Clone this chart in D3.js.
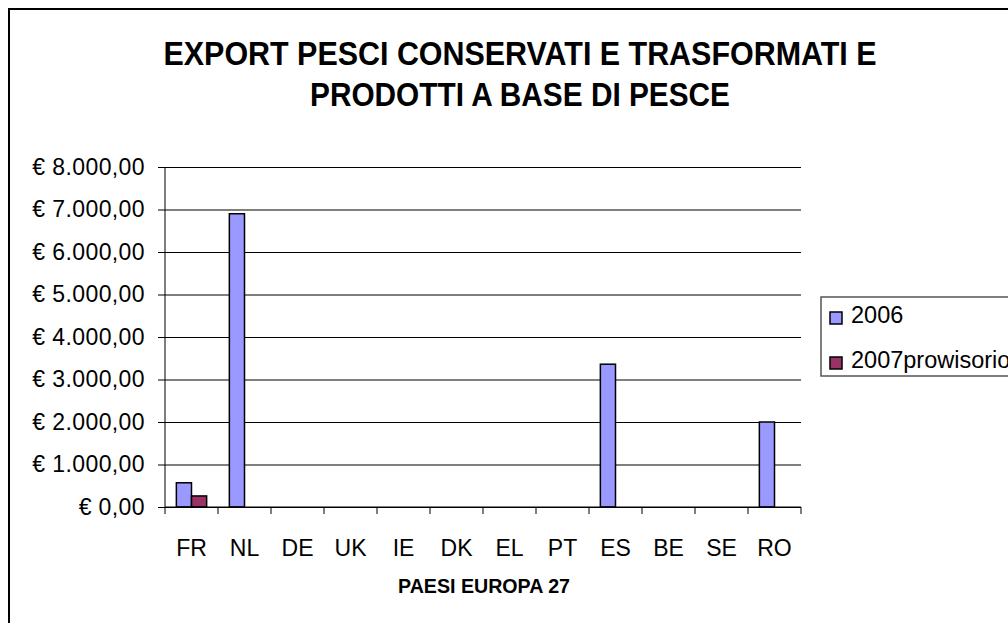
<!DOCTYPE html>
<html>
<head>
<meta charset="utf-8">
<script src="https://cdn.jsdelivr.net/npm/d3@7"></script>
<style>
  html, body { margin: 0; padding: 0; background: #fff; }
  svg { display: block; }
  text { font-family: "Liberation Sans", Arial, sans-serif; fill: #000; }
</style>
</head>
<body>
<svg id="chart" width="1008" height="623"></svg>
<script>
const categories = ["FR","NL","DE","UK","IE","DK","EL","PT","ES","BE","SE","RO"];
const seriesNames = ["2006","2007prowisorio"];
const values2006 = [570, 6900, 0, 0, 0, 0, 0, 0, 3360, 0, 0, 2000];
const values2007 = [260, 0, 0, 0, 0, 0, 0, 0, 0, 0, 0, 0];
const yTicks = [0,1000,2000,3000,4000,5000,6000,7000,8000];
const seriesColors = ["#9999FF","#993366"];
const titleLines = ["EXPORT PESCI CONSERVATI E TRASFORMATI E","PRODOTTI A BASE DI PESCE"];
const xTitle = "PAESI EUROPA 27";

const svg = d3.select("#chart");
const plot = {left: 165, right: 801, top: 167, bottom: 507};

// frame
svg.append("rect").attr("x", 9).attr("y", 9).attr("width", 1040).attr("height", 640)
  .attr("fill", "none").attr("stroke", "#000").attr("stroke-width", 2);

// title
const tt = svg.append("g");
const titleWidths = [713, 420];
titleLines.forEach((t, i) => {
  tt.append("text").attr("x", 520).attr("y", 65 + i * 41)
    .attr("text-anchor", "middle").attr("font-weight", "bold").attr("font-size", 34)
    .attr("textLength", titleWidths[i]).attr("lengthAdjust", "spacingAndGlyphs")
    .text(t);
});

const x0 = d3.scaleBand().domain(categories).range([plot.left, plot.right]).paddingInner(0).paddingOuter(0);
const x1 = d3.scaleBand().domain(seriesNames).range([0, x0.bandwidth()]).paddingInner(0).paddingOuter(0.75);
const y = d3.scaleLinear().domain([0, 8000]).range([plot.bottom, plot.top]);

const itLocale = d3.formatLocale({decimal: ",", thousands: ".", grouping: [3], currency: ["€ ", ""]});
const fmt = itLocale.format("$,.2f");

// gridlines
const grid = svg.append("g").attr("transform", `translate(${plot.left},0)`)
  .call(d3.axisLeft(y).tickValues(yTicks).tickSize(-(plot.right - plot.left)).tickFormat(""));
grid.select(".domain").remove();
grid.selectAll("line").attr("stroke", "#000").attr("stroke-width", 1);

// bars
const data = categories.map((c, i) => ({cat: c, vals: [values2006[i], values2007[i]]}));
const groups = svg.append("g").selectAll("g").data(data).join("g")
  .attr("transform", d => `translate(${x0(d.cat)},0)`);
groups.selectAll("rect").data(d => d.vals.map((v, k) => ({s: seriesNames[k], v, k})))
  .join("rect")
  .attr("x", d => x1(d.s))
  .attr("y", d => y(d.v))
  .attr("width", x1.bandwidth())
  .attr("height", d => y(0) - y(d.v))
  .attr("fill", d => seriesColors[d.k])
  .attr("stroke", "#000").attr("stroke-width", 1.5)
  .style("display", d => d.v > 0 ? null : "none");

// y axis
const yAxis = svg.append("g").attr("transform", `translate(${plot.left},0)`)
  .call(d3.axisLeft(y).tickValues(yTicks).tickSize(7).tickPadding(13).tickFormat(fmt));
yAxis.select(".domain").attr("stroke", "#000").attr("d", `M0,${plot.top}V${plot.bottom}`);
yAxis.selectAll("line").attr("stroke", "#000");
yAxis.selectAll("text").attr("font-size", 23).attr("letter-spacing", 0.4)
  .attr("font-family", "Liberation Sans, Arial, sans-serif");

// x axis
const xAxis = svg.append("g").attr("transform", `translate(0,${plot.bottom})`)
  .call(d3.axisBottom(x0).tickSize(0).tickPadding(33));
xAxis.select(".domain").attr("stroke", "#000").attr("d", `M${plot.left},0H${plot.right}`);
xAxis.selectAll("text").attr("font-size", 23).attr("font-family", "Liberation Sans, Arial, sans-serif");
// category boundary ticks
const bounds = categories.map(c => x0(c)).concat([plot.right]);
xAxis.append("g").selectAll("line").data(bounds).join("line")
  .attr("x1", d => d).attr("x2", d => d).attr("y1", 0).attr("y2", 7)
  .attr("stroke", "#000");

// x title
svg.append("text").attr("x", (plot.left + plot.right) / 2 + 1).attr("y", 593)
  .attr("text-anchor", "middle").attr("font-weight", "bold").attr("font-size", 21)
  .attr("textLength", 172).attr("lengthAdjust", "spacingAndGlyphs")
  .text(xTitle);

// legend
const lg = svg.append("g").attr("transform", "translate(821,297)");
lg.append("rect").attr("x", 0).attr("y", 0).attr("width", 220).attr("height", 79)
  .attr("fill", "#fff").attr("stroke", "#555").attr("stroke-width", 1.5);
seriesNames.forEach((s, i) => {
  const row = lg.append("g").attr("transform", `translate(0,${26 + i * 45})`);
  row.append("rect").attr("x", 9).attr("y", -11).attr("width", 12).attr("height", 12)
    .attr("fill", seriesColors[i]).attr("stroke", "#000").attr("stroke-width", 1.5);
  row.append("text").attr("x", 30).attr("y", 0).attr("font-size", 23.5).text(s);
});
</script>
</body>
</html>
